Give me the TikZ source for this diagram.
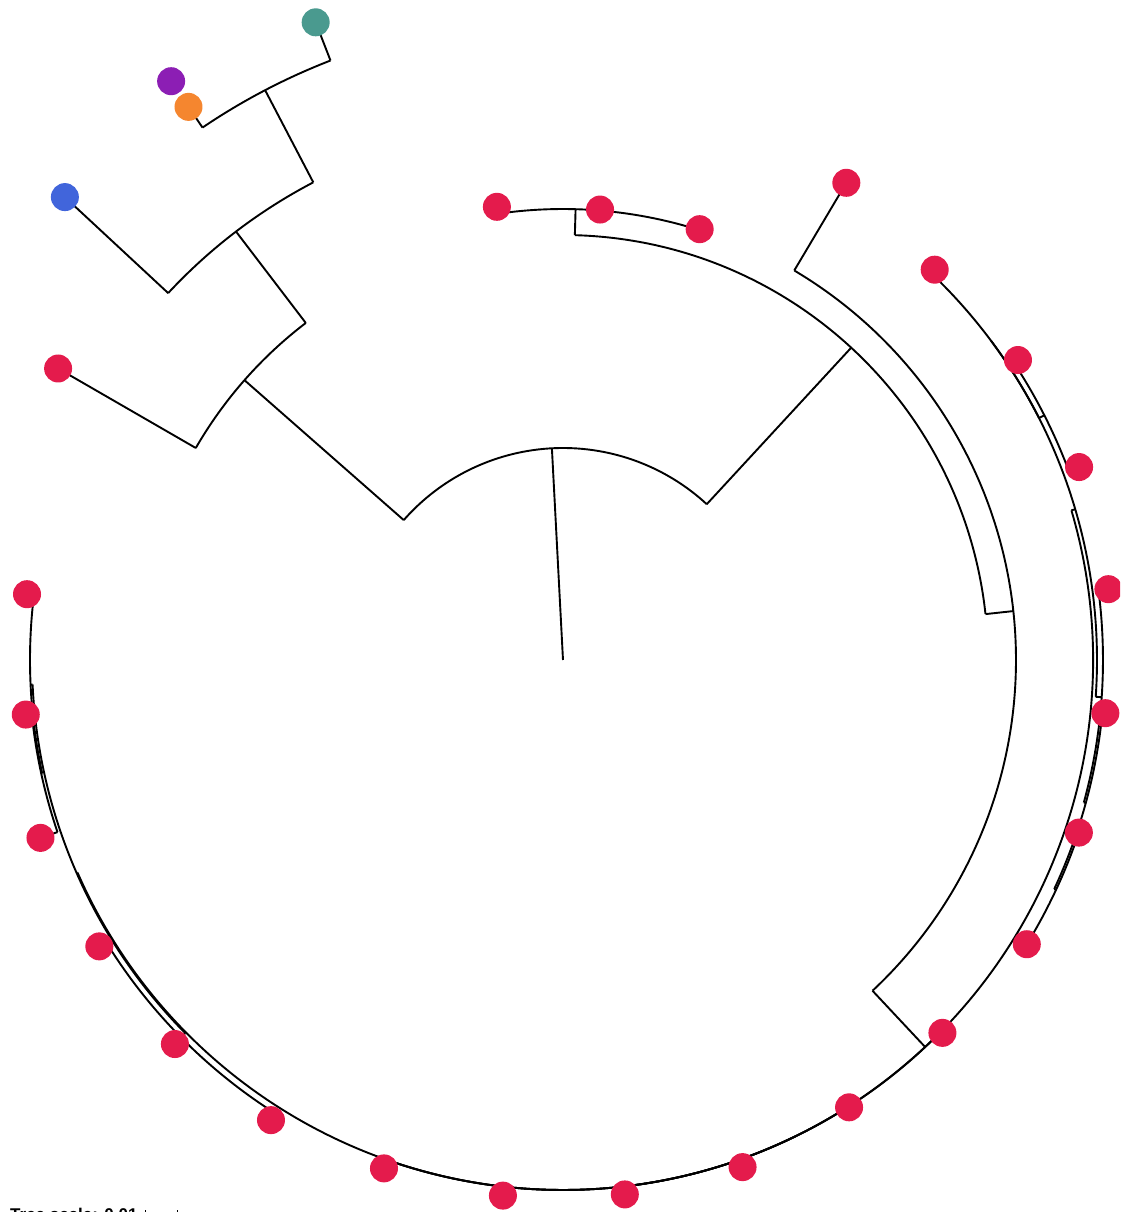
\documentclass[tikz,border=0pt]{standalone}
\usepackage{fontspec}
\setmainfont{Liberation Sans}
\definecolor{leafred}{HTML}{E41B4C}
\definecolor{leafblue}{HTML}{4165DB}
\definecolor{leaforange}{HTML}{F5862F}
\definecolor{leafpurple}{HTML}{8C1EB4}
\definecolor{leafteal}{HTML}{4A9A8F}

\def\leaflist{150/424/583/leafred, 137.1/539/680/leafblue, 124.1/643/668/leaforange,
  111.2/643/684/leafteal, 98.3/451/458/leafred, 85.3/451/452/leafred, 72.4/451/452/leafred,
  59.3/453/555/leafred, 46.4/534/539/leafred, 33.4/540/545/leafred, 20.5/540/551/leafred,
  7.4/540/550/leafred, -5.6/542/545/leafred, -18.5/544/544/leafred, -31.5/544/544/leafred,
  -44.5/530/532/leafred, -57.4/530/531/leafred, -70.5/530/538/leafred, -83.4/530/538/leafred,
  -96.4/530/539/leafred, -109.4/530/539/leafred, -122.4/537/545/leafred, -135.3/537/546/leafred,
  -148.3/537/545/leafred, -161.2/534/552/leafred, -174.2/534/540/leafred, -187/533/540/leafred}

\begin{document}
\begin{tikzpicture}[
  branch/.style={draw, line width=1.9pt},
  leaf/.style={circle, fill=leafred, minimum size=28pt, inner sep=0pt},
]
\path[use as bounding box, clip] (-563pt,-552pt) rectangle (557pt,660pt);

% clades: name/angle/parent radius/radius/arc from/arc to
\foreach \n/\t/\rp/\r/\a/\b in {
  root/93.0/0/212/138.7/47.3,
  left/138.7/212/424/150/127.35,
  left2/127.35/424/539/137.1/117.6,
  left3/117.6/539/643/124.1/111.2,
  right/47.3/212/425/88.4/6.2,
  top/88.4/425/451/98.3/72.4,
  rim/6.2/425/453/59.3/-46.9,
  q/-46.9/453/530/16.4/-110.2,
  a/16.4/530/534/36.7/-3.95,
  x/36.7/534/534/46.4/26.95,
  a3/26.95/534/540/33.4/20.5,
  a4/-3.95/534/540/7.4/-15.3,
  a5/-15.3/540/542/-5.6/-25,
  a6/-25/542/544/-18.5/-31.5,
  b/-110.2/530/530/-64/-156.35,
  b1/-64/530/530/-44.5/-83.4,
  y/-83.4/530/530/-57.4/-109.4,
  b2/-156.35/530/531/-135.35/-177.35,
  b3/-135.35/531/537/-122.4/-148.3,
  b4/-177.35/531/533/-167.7/-187,
  b5/-167.7/533/534/-161.2/-174.2}
{
  \coordinate (\n-in) at (\t:\rp pt);
  \coordinate (\n) at (\t:\r pt);
  \coordinate (\n-a) at (\a:\r pt);
  \draw[branch] (\n-in) -- (\n);
  \draw[branch] (\n-a) arc[start angle=\a, end angle=\b, radius=\r pt];
}

% leaf branches, then the symbols
\foreach \t/\rp/\r/\c [count=\k] in \leaflist {
  \coordinate (leaf \k-in) at (\t:\rp pt);
  \coordinate (leaf \k-tip) at (\t:\r pt);
  \draw[branch] (leaf \k-in) -- (leaf \k-tip);
}
\node[leaf, fill=leafpurple] (leaf purple) at (124.1:699pt) {};
\foreach \t/\rp/\r/\c [count=\k] in \leaflist
  \node[leaf, fill=\c] (leaf \k) at (leaf \k-tip) {};

\node[anchor=base west, inner sep=0pt, font=\bfseries\fontsize{17}{20}\selectfont]
  (scale) at (-553pt,-560pt) {Tree scale: 0.01};
\coordinate (bar l) at ([xshift=8pt]scale.mid east);
\coordinate (bar r) at ([xshift=40pt]scale.mid east);
\draw[line width=1pt] (bar l) -- (bar r);
\draw[line width=1pt] ([yshift=-7pt]bar l) -- ([yshift=7pt]bar l);
\draw[line width=1pt] ([yshift=-7pt]bar r) -- ([yshift=7pt]bar r);
\end{tikzpicture}
\end{document}
